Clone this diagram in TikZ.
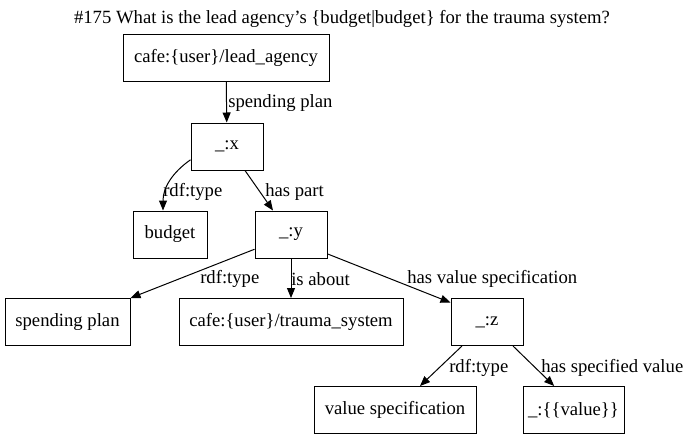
\documentclass[tikz,border=0pt]{standalone}
\usepackage{fontspec}
\setmainfont{Liberation Serif}
\usetikzlibrary{arrows.meta}
\begin{document}
\begin{tikzpicture}[x=0.75pt,y=-0.75pt,font=\fontsize{14pt}{17pt}\selectfont]
	% size of each node
	\def\sz{35.25pt}
	\def\szsmall{54pt}
	% node style definition
	\tikzstyle{box} = [draw, rectangle, minimum height=\sz, minimum width=\szsmall, inner sep=0pt, line width=0.75pt];
	\tikzstyle{lbl} = [draw=none, fill=none, anchor=west, inner sep=0pt];
	\tikzstyle{link} = [-{Triangle[length=7.5pt,width=6pt]}, line width=0.75pt];
	\useasboundingbox (0,0) rectangle (686,440);
	% title
	\node[draw=none, inner sep=0pt] (title) at (342,19) {\#175 What is the lead agency's \{budget|budget\} for the trauma system?};
	% nodes
	\node[box, minimum width=154.5pt] (lead) at (226,57.5) {cafe:\{user\}/lead\_agency};
	\node[box] (x) at (227,146.5) {\_:x};
	\node[box, minimum width=55.5pt] (budget) at (170,234.5) {budget};
	\node[box] (y) at (291,234.5) {\_:y};
	\node[box, minimum width=93.75pt] (spending) at (67.5,322) {spending plan};
	\node[box, minimum width=168pt] (trauma) at (291,322) {cafe:\{user\}/trauma\_system};
	\node[box] (z) at (487,322) {\_:z};
	\node[box, minimum width=121.5pt] (valspec) at (395,410) {value specification};
	\node[box, minimum width=75.75pt] (value) at (573.5,410) {\_:\{\{value\}\}};
	% edges
	\draw[link] (lead) -- (x);
	\draw[link] (x.200) to[out=215,in=90] ([xshift=-5.25pt]budget.north);
	\draw[link] ([xshift=13.5pt]x.south) -- ([xshift=-13.5pt]y.north);
	\draw[link] (y.202) -- (spending.north east);
	\draw[link] (y) -- (trauma);
	\draw[link] (y.332) -- (z.152);
	\draw[link] ([xshift=-18.75pt]z.south) -- ([xshift=18.75pt]valspec.north);
	\draw[link] ([xshift=19.5pt]z.south) -- ([xshift=-14.5pt]value.north);
	% edge labels
	\node[lbl] (l1) at (228,103) {spending plan};
	\node[lbl] (l2) at (163,192) {rdf:type};
	\node[lbl] (l3) at (265,192) {has part};
	\node[lbl] (l4) at (200,279) {rdf:type};
	\node[lbl] (l5) at (291,279) {is about};
	\node[lbl] (l6) at (407,279) {has value specification};
	\node[lbl] (l7) at (449,368) {rdf:type};
	\node[lbl] (l8) at (541,368) {has specified value};
\end{tikzpicture}
\end{document}
